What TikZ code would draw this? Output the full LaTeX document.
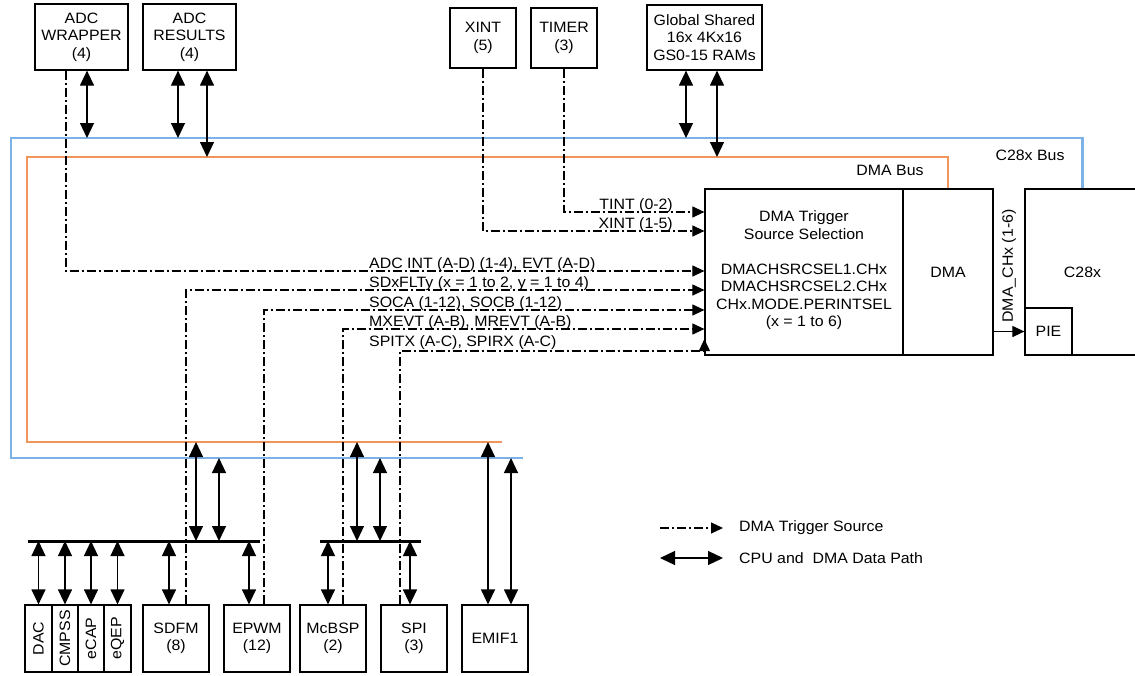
\documentclass[tikz,border=0pt]{standalone}
\usepackage{fontspec}
\setmainfont{Liberation Sans}[FakeStretch=1.06]
\usepackage{xcolor}
\usetikzlibrary{arrows.meta,positioning,calc}

\definecolor{cbusblue}{RGB}{125,178,230}
\definecolor{dbusorange}{RGB}{240,150,90}

\begin{document}
\begin{tikzpicture}[
    x=1pt, y=-1pt,
    font=\fontsize{15}{17.5}\selectfont,
    block/.style={draw, line width=1.2pt, align=center, inner sep=1pt},
    lbl/.style={inner sep=0pt, align=center},
    data/.style={line width=1.2pt, {Triangle[length=15pt,width=14pt]}-{Triangle[length=15pt,width=14pt]}},
    trig/.style={line width=1.1pt, dash pattern=on 9pt off 3pt on 2pt off 3pt, -{Triangle[length=12pt,width=11pt]}},
    chx/.style={line width=1.1pt, -{Triangle[length=12pt,width=11pt]}},
    cbus/.style={line width=2.4pt, cbusblue},
    dbus/.style={line width=2.4pt, dbusorange},
    bar/.style={line width=3pt}
]
\useasboundingbox (0,0) rectangle (1135,675);

% Top blocks
\node[block, minimum width=93, minimum height=66] (wrap) at (81.5,37) {ADC\\WRAPPER\\(4)};
\node[block, minimum width=93, minimum height=66] (res) at (189.5,37) {ADC\\RESULTS\\(4)};
\node[block, minimum width=66, minimum height=60] (xint) at (483,38) {XINT\\(5)};
\node[block, minimum width=66, minimum height=60] (timer) at (564,38) {TIMER\\(3)};
\node[block, minimum width=115, minimum height=65] (gs) at (704.5,37.5) {Global Shared\\16x 4Kx16\\GS0-15 RAMs};

% DMA and CPU
\node[block, minimum width=198, minimum height=166] (trig) at (804,272) {};
\node[lbl] (trigt1) at (804,225) {DMA Trigger\\Source Selection};
\node[lbl] (trigt2) at (804,297) {DMACHSRCSEL1.CHx\\DMACHSRCSEL2.CHx\\CHx.MODE.PERINTSEL\\(x = 1 to 6)};
\node[block, minimum width=90, minimum height=166] (dma) at (948,272) {DMA};
\node[block, minimum width=115, minimum height=166] (cpu) at (1082.5,272) {C28x};
\node[block, minimum width=47, minimum height=47] (pie) at (1048.5,331.5) {PIE};
\draw[chx] (pie.west -| dma.east) -- (pie.west);
\node[lbl, rotate=90] (lchx) at (1009,266) {DMA\_CHx (1-6)};

% Bottom blocks
\node[block, minimum width=27, minimum height=67] (dac) at (38.5,638.5) {\rotatebox{90}{DAC}};
\node[block, minimum width=26, minimum height=67] (cmpss) at (65,638.5) {\rotatebox{90}{CMPSS}};
\node[block, minimum width=26, minimum height=67] (ecap) at (91,638.5) {\rotatebox{90}{eCAP}};
\node[block, minimum width=27, minimum height=67] (eqep) at (117.5,638.5) {\rotatebox{90}{eQEP}};
\node[block, minimum width=66, minimum height=67] (sdfm) at (176,638.5) {SDFM\\(8)};
\node[block, minimum width=66, minimum height=67] (epwm) at (257,638.5) {EPWM\\(12)};
\node[block, minimum width=66, minimum height=67] (mcbsp) at (333,638.5) {McBSP\\(2)};
\node[block, minimum width=66, minimum height=67] (spi) at (414,638.5) {SPI\\(3)};
\node[block, minimum width=66, minimum height=67] (emif) at (495,638.5) {EMIF1};

% Buses
\coordinate (cbEnd) at (523,458);
\coordinate (cbCorner) at (11,138);
\coordinate (dbEnd) at (502,442);
\coordinate (dbCorner) at (27,157);
\draw[cbus] (cbEnd) -| (cbCorner) -| (cpu.north);
\draw[dbus] (dbEnd) -| (dbCorner) -| (dma.north);
\node[lbl] (lcbus) at (1030,155) {C28x Bus};
\node[lbl] (ldbus) at (890,170) {DMA Bus};

% Peripheral bars
\coordinate (barL) at (28,541);
\coordinate (barLe) at (260,541);
\coordinate (barR) at (320,541);
\coordinate (barRe) at (421,541);
\draw[bar] (barL) -- (barLe);
\draw[bar] (barR) -- (barRe);

% Data paths, top
\coordinate (tWrap) at (87,138);
\coordinate (tRes1) at (178,138);
\coordinate (tRes2) at (207,157);
\coordinate (tGs1) at (686,138);
\coordinate (tGs2) at (717,157);
\draw[data] (tWrap |- wrap.south) -- (tWrap);
\draw[data] (tRes1 |- res.south) -- (tRes1);
\draw[data] (tRes2 |- res.south) -- (tRes2);
\draw[data] (tGs1 |- gs.south) -- (tGs1);
\draw[data] (tGs2 |- gs.south) -- (tGs2);

% Data paths, bottom
\foreach \n in {dac,cmpss,ecap,eqep}
    \draw[data] (\n.north) -- (\n.north |- barL);
\coordinate (tSdfm) at (169,541);
\coordinate (tEpwm) at (249,541);
\coordinate (tMcbsp) at (328,541);
\coordinate (tSpi) at (410,541);
\draw[data] (tSdfm |- sdfm.north) -- (tSdfm);
\draw[data] (tEpwm |- epwm.north) -- (tEpwm);
\draw[data] (tMcbsp |- mcbsp.north) -- (tMcbsp);
\draw[data] (tSpi |- spi.north) -- (tSpi);
\coordinate (oSd) at (196,442);
\coordinate (bSd) at (219,458);
\coordinate (oMc) at (357,442);
\coordinate (bMc) at (380,458);
\coordinate (oEm) at (488,442);
\coordinate (bEm) at (511,458);
\draw[data] (oSd) -- (oSd |- barL);
\draw[data] (bSd) -- (bSd |- barL);
\draw[data] (oMc) -- (oMc |- barR);
\draw[data] (bMc) -- (bMc |- barR);
\draw[data] (oEm) -- (oEm |- emif.north);
\draw[data] (bEm) -- (bEm |- emif.north);

% Trigger sources
\coordinate (kAdc) at (66,271);
\coordinate (kSd) at (186,290);
\coordinate (kSoc) at (264,310);
\coordinate (kMx) at (343,329);
\coordinate (kSpi) at (400,351);
\coordinate (kXint) at (483,231);
\coordinate (kTint) at (564,212);
\draw[trig] (kAdc |- wrap.south) -- (kAdc) -- (kAdc -| trig.west);
\draw[trig] (kSd |- sdfm.north) -- (kSd) -- (kSd -| trig.west);
\draw[trig] (kSoc |- epwm.north) -- (kSoc) -- (kSoc -| trig.west);
\draw[trig] (kMx |- mcbsp.north) -- (kMx) -- (kMx -| trig.west);
\draw[trig] (kSpi |- spi.north) -- (kSpi) -- (kSpi -| trig.west) -- ++(0,-12);
\draw[trig] (kXint |- xint.south) -- (kXint) -- (kXint -| trig.west);
\draw[trig] (kTint |- timer.south) -- (kTint) -- (kTint -| trig.west);
\node[lbl, anchor=base west] (lAdc) at (369,268) {ADC INT (A-D) (1-4), EVT (A-D)};
\node[lbl, anchor=base west] (lSd) at (369,287) {SDxFLTy (x = 1 to 2, y = 1 to 4)};
\node[lbl, anchor=base west] (lSoc) at (369,307) {SOCA (1-12), SOCB (1-12)};
\node[lbl, anchor=base west] (lMx) at (369,326) {MXEVT (A-B), MREVT (A-B)};
\node[lbl, anchor=base west] (lSpi) at (369,346) {SPITX (A-C), SPIRX (A-C)};
\node[lbl, anchor=base east] (lTint) at (673,209) {TINT (0-2)};
\node[lbl, anchor=base east] (lXint) at (673,228) {XINT (1-5)};

% Legend
\coordinate (lgTa) at (660,528);
\coordinate (lgTb) at (723,528);
\coordinate (lgDa) at (660,558);
\coordinate (lgDb) at (723,558);
\draw[trig] (lgTa) -- (lgTb);
\draw[data] (lgDa) -- (lgDb);
\node[lbl, anchor=west] (lgT) at (739,528) {DMA Trigger Source};
\node[lbl, anchor=west] (lgD) at (739,558) {CPU and\ \ DMA Data Path};

\end{tikzpicture}
\end{document}
